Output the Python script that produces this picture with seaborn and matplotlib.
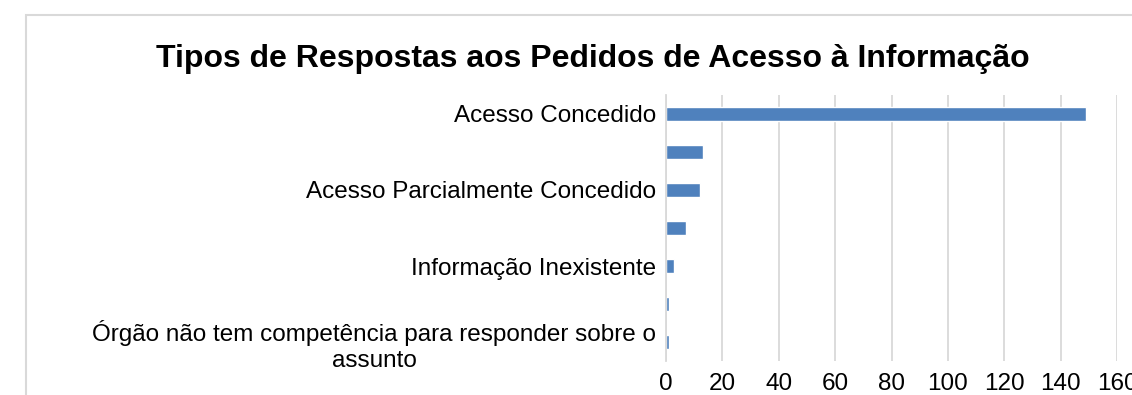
import matplotlib
matplotlib.use("Agg")
import matplotlib.pyplot as plt
from matplotlib.patches import Rectangle
import seaborn as sns
import pandas as pd

# Response types (only every other category label is printed on the axis)
categorias = [
    "Acesso Concedido",
    "",
    "Acesso Parcialmente Concedido",
    "",
    "Informação Inexistente",
    "",
    "Órgão não tem competência para responder sobre o\nassunto",
]
quantidades = [149, 13, 12, 7, 3, 1, 1]
xticks = [0, 20, 40, 60, 80, 100, 120, 140, 160]
titulo = "Tipos de Respostas aos Pedidos de Acesso à Informação"

sns.set_style("white")
plt.rcParams["font.family"] = ["Liberation Sans", "DejaVu Sans"]

W, H = 1132, 395
fig = plt.figure(figsize=(W / 100, H / 100), dpi=100)
fig.patch.set_facecolor("white")

# chart frame (extends past the right and bottom edges)
fig.patches.append(Rectangle((26 / W, -0.2), 1.2, 1.2 - 15 / H,
                             transform=fig.transFigure, fill=False,
                             edgecolor="#D9D9D9", linewidth=1.5, zorder=0))

ax = fig.add_axes([666 / W, 1 - 361 / H, (1117 - 666) / W, (361 - 95) / H])

df = pd.DataFrame({"pos": list(range(len(quantidades))), "valor": quantidades})
sns.barplot(data=df, x="valor", y="pos", orient="h", color="#4F81BD",
            saturation=1, width=0.37, ax=ax)

ax.set_xlim(0, 160)
ax.set_xticks(xticks)
ax.set_yticks(range(len(categorias)))
ax.set_yticklabels(categorias, multialignment="center")
ax.set_xlabel("")
ax.set_ylabel("")
ax.grid(axis="x", color="#D9D9D9", linewidth=1.3)
ax.grid(axis="y", visible=False)
ax.set_axisbelow(True)
for s in ["top", "right", "bottom"]:
    ax.spines[s].set_visible(False)
ax.spines["left"].set_color("#D9D9D9")
ax.spines["left"].set_linewidth(1.3)
ax.tick_params(axis="both", length=0, labelsize=17.5, colors="black")
ax.tick_params(axis="x", pad=9)
ax.tick_params(axis="y", pad=7)

fig.text(593 / W, 1 - 59 / H, titulo, ha="center", va="center",
         fontsize=23, fontweight="bold", color="black")

fig.savefig("out.png", dpi=100, facecolor="white")
